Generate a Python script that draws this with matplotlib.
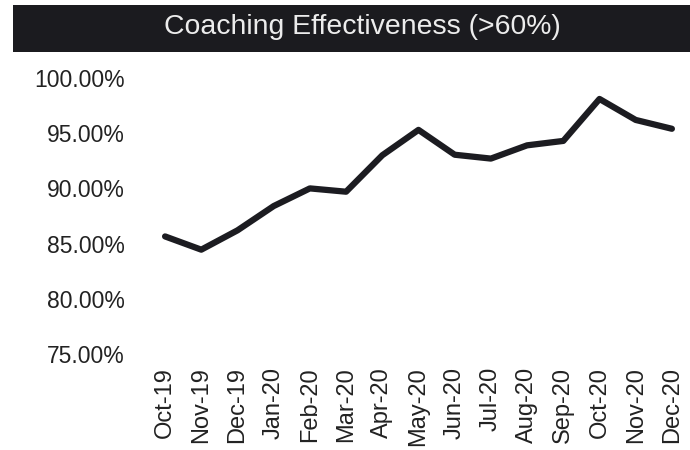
import matplotlib.pyplot as plt
from matplotlib.patches import Rectangle
from matplotlib.ticker import FuncFormatter

plt.rcParams['font.family'] = ['Liberation Sans', 'DejaVu Sans']

# monthly coaching effectiveness, percent
months = ["Oct-19", "Nov-19", "Dec-19", "Jan-20", "Feb-20", "Mar-20", "Apr-20",
          "May-20", "Jun-20", "Jul-20", "Aug-20", "Sep-20", "Oct-20", "Nov-20",
          "Dec-20"]
effectiveness = [85.65, 84.45, 86.2, 88.4, 90.0, 89.7, 93.0,
                 95.3, 93.05, 92.7, 93.9, 94.3, 98.1, 96.2, 95.4]
y_ticks = [75, 80, 85, 90, 95, 100]

fig = plt.figure(figsize=(6.9, 4.5), dpi=100)

# dark banner with the title
fig.patches.append(Rectangle((13 / 690, 1 - 52 / 450), 677 / 690, 47 / 450,
                             transform=fig.transFigure, facecolor="#1b1b1f",
                             edgecolor="none", zorder=0))
fig.text(362 / 690, 1 - 27 / 450, "Coaching Effectiveness (>60%)", color="#ececec",
         fontsize=20.4, ha="center", va="center")

ax = fig.add_axes([0.213, 0.2133, 0.787, 0.6134])
ax.plot(range(len(months)), effectiveness, color="#1c1c21", linewidth=4.5,
        solid_capstyle="round", solid_joinstyle="round")

ax.set_xlim(-0.5, len(months) - 0.5)
ax.set_ylim(75, 100)
ax.set_yticks(y_ticks)
ax.yaxis.set_major_formatter(FuncFormatter(lambda v, p: f"{v:.2f}%"))
ax.set_xticks(range(len(months)))
ax.set_xticklabels(months, rotation=90)

ax.tick_params(axis="y", length=0, pad=16, labelsize=16.5, labelcolor="#222222")
ax.tick_params(axis="x", length=0, pad=9.5, labelsize=17, labelcolor="#222222")
for s in ax.spines.values():
    s.set_visible(False)
ax.patch.set_alpha(0)

fig.savefig("out.png", dpi=100)
